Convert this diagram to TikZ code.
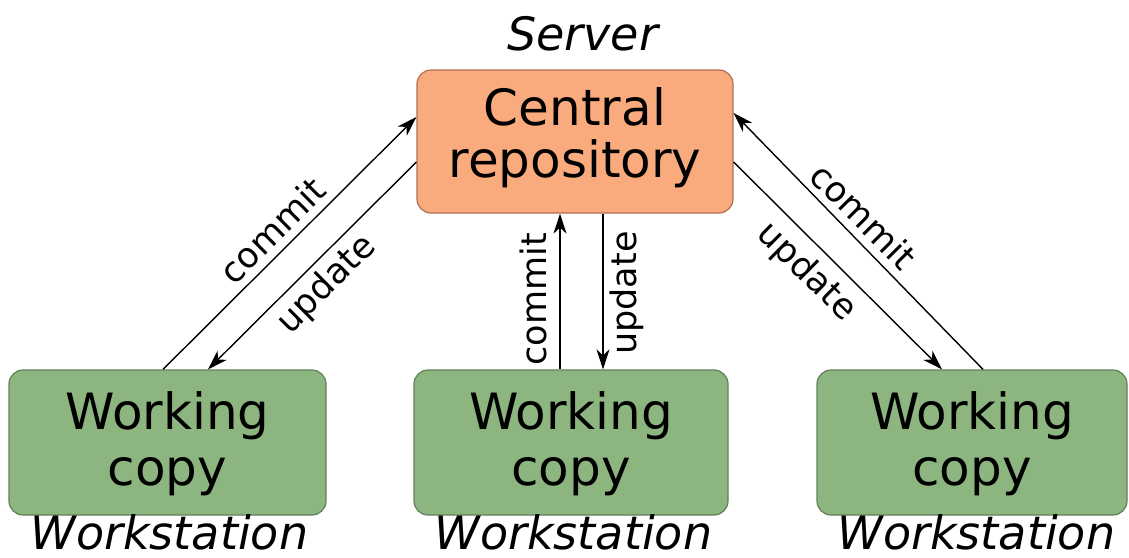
\documentclass[tikz,border=0pt]{standalone}
\usepackage{fontspec}
\setmainfont{DejaVu Sans}
\usetikzlibrary{arrows.meta,calc}
\definecolor{orfill}{RGB}{249,171,126}
\definecolor{ordraw}{RGB}{175,112,84}
\definecolor{grfill}{RGB}{141,181,127}
\definecolor{grdraw}{RGB}{98,128,90}
\begin{document}
\begin{tikzpicture}[x=1pt,y=-1pt,
  box/.style={rounded corners=14pt, line width=1.2pt, inner sep=0pt, align=center},
  central/.style={box, draw=ordraw, fill=orfill, minimum width=316pt, minimum height=143pt,
    text height=90pt, text depth=19pt, font=\fontsize{50}{52}\selectfont},
  work/.style={box, draw=grdraw, fill=grfill, minimum height=145pt,
    text height=94pt, text depth=8pt, font=\fontsize{50}{56}\selectfont},
  place/.style={font=\fontsize{46}{46}\selectfont\itshape, inner sep=0pt, anchor=base},
  flow/.style={line width=1.4pt, -{Stealth[length=20pt,width=13pt,inset=6pt]}},
  lab/.style={font=\fontsize{35}{35}\selectfont, inner sep=0pt, text height=0pt, text depth=0pt},
]
\useasboundingbox (0,0) rectangle (1129,557);

\node[central] (cr) at (575,141.5) {Central\\repository};
\node[work, minimum width=317pt] (w1) at (167.5,442.5) {Working\\copy};
\node[work, minimum width=314pt] (w2) at (571,442.5) {Working\\copy};
\node[work, minimum width=310pt] (w3) at (972,442.5) {Working\\copy};

\node[place] (srv) at (582.5,50) {Server};
\node[place] (ws1) at (169.5,549) {Workstation};
\node[place] (ws2) at (573.5,549) {Workstation};
\node[place] (ws3) at (976.5,549) {Workstation};

% left
\draw[flow] ([xshift=-4.5pt]w1.north) -- node[lab, pos=0.49, rotate=44.8, anchor=south, outer sep=8pt] {commit} ([yshift=24.5pt]cr.west);
\draw[flow] ([yshift=-20.5pt]cr.west) -- node[lab, pos=0.51, rotate=44.9, anchor=north, outer sep=33pt] {update} ([xshift=40.5pt]w1.north);
% middle
\draw[flow] ([xshift=-11pt]w2.north) -- node[lab, pos=0.45, rotate=90, anchor=south, outer sep=13pt] {commit} ([xshift=-15pt]cr.south);
\draw[flow] ([xshift=28pt]cr.south) -- node[lab, pos=0.51, rotate=90, anchor=north, outer sep=33pt] {update} ([xshift=32pt]w2.north);
% right
\draw[flow] ([xshift=11pt]w3.north) -- node[lab, pos=0.54, rotate=-45.2, anchor=south, outer sep=8pt] {commit} ([yshift=28.5pt]cr.east);
\draw[flow] ([yshift=-20.5pt]cr.east) -- node[lab, pos=0.44, rotate=-44.6, anchor=north, outer sep=36pt] {update} ([xshift=-30pt]w3.north);
\end{tikzpicture}
\end{document}
